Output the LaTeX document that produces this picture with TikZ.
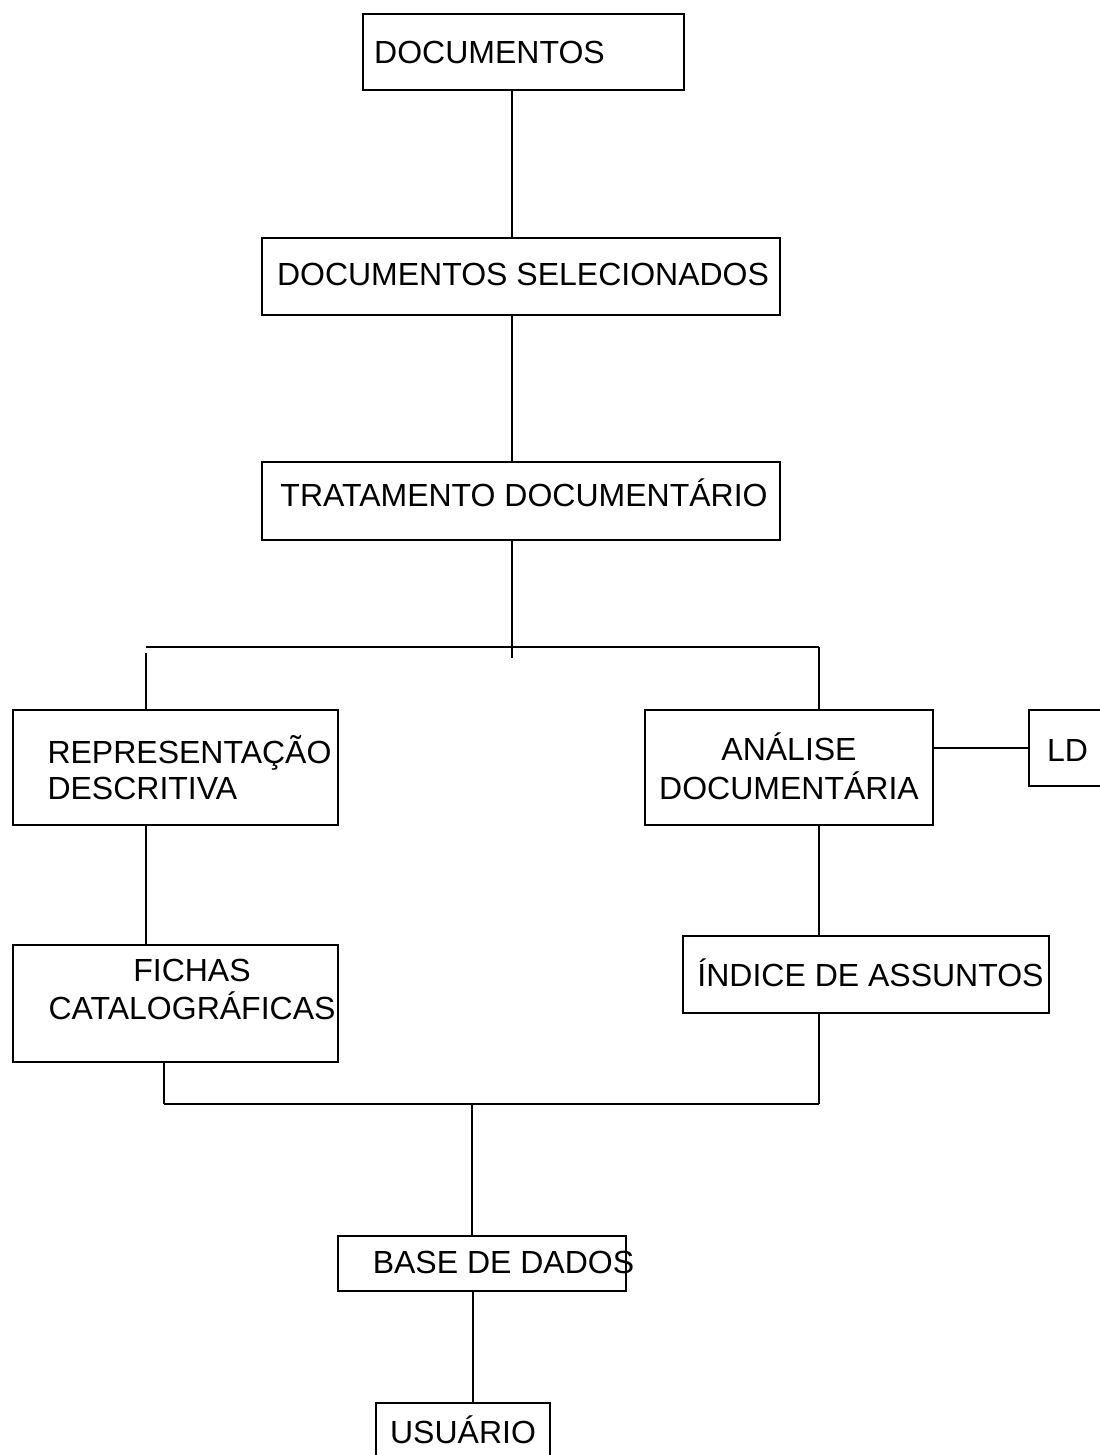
\documentclass[tikz,border=0pt]{standalone}
\usepackage{fontspec}
\setmainfont{Liberation Sans}
% box label: zero-width wrapper so the box keeps its own size;
% #1 = column alignment, #2 = horizontal shift, #3 = vertical raise, #4 = lines
\newcommand\boxlabel[4][c]{\makebox[0pt]{\kern#2pt\raisebox{#3pt}[\height][\depth]{\begin{tabular}{@{}#1@{}}#4\end{tabular}}}}
\begin{document}
\begin{tikzpicture}[x=0.5pt,y=-0.5pt,
  box/.style={draw=black, line width=1pt, rectangle, inner sep=0pt,
    font=\fontsize{16}{18}\selectfont},
  link/.style={draw=black, line width=1pt}]
\useasboundingbox (0,0) rectangle (1099,1455);

% boxes
\node[box, minimum width=160.5pt, minimum height=38pt]   (doc)  at (523.5,52)    {\boxlabel{-34}{-2}{DOCUMENTOS}};
\node[box, minimum width=259pt,   minimum height=38.5pt] (sel)  at (521,276.5)   {\boxlabel{2}{-1}{DOCUMENTOS SELECIONADOS}};
\node[box, minimum width=259pt,   minimum height=39pt]   (trat) at (521,501)     {\boxlabel{3}{1.5}{TRATAMENTO DOCUMENTÁRIO}};
\node[box, minimum width=162.5pt, minimum height=57.5pt] (rep)  at (175.5,767.5) {\boxlabel[l]{14}{-2.5}{REPRESENTAÇÃO\\DESCRITIVA}};
\node[box, minimum width=144pt,   minimum height=57.5pt] (ana)  at (789,767.5)   {\boxlabel{0}{-2}{ANÁLISE\\DOCUMENTÁRIA}};
\node[box, minimum width=45.5pt,  minimum height=38pt]   (ld)   at (1074.5,748)  {\boxlabel{-7}{-3}{LD}};
\node[box, minimum width=162.5pt, minimum height=58.5pt] (fic)  at (175.5,1003.5){\boxlabel{16.5}{5}{FICHAS\\CATALOGRÁFICAS}};
\node[box, minimum width=183pt,   minimum height=38.5pt] (ind)  at (866,974.5)   {\boxlabel{4.5}{-2}{ÍNDICE DE ASSUNTOS}};
\node[box, minimum width=144pt,   minimum height=27.5pt] (base) at (482,1263.5)  {\boxlabel{21.5}{-1.5}{BASE DE DADOS}};
\node[box, minimum width=87pt,    minimum height=32pt]   (usu)  at (463,1435)    {\boxlabel{0}{0}{USUÁRIO}};

% connector columns and junctions
\coordinate (spine) at (512,0);
\coordinate (colL)  at (146,0);
\coordinate (colR)  at (819,0);
\coordinate (colB)  at (164,0);
\coordinate (colM)  at (472,0);
\coordinate (colU)  at (473,0);
\coordinate (stub)   at (512,658);
\coordinate (splitL) at (146,647);
\coordinate (splitR) at (819,647);
\coordinate (dropL)  at (146,653);
\coordinate (joinL)  at (164,1104);
\coordinate (joinR)  at (819,1104);
\coordinate (joinM)  at (472,1104);

% connectors
\draw[link] (spine |- doc.south) -- (spine |- sel.north);
\draw[link] (spine |- sel.south) -- (spine |- trat.north);
\draw[link] (spine |- trat.south) -- (stub);
\draw[link] (splitL) -- (splitR);
\draw[link] (dropL) -- (colL |- rep.north);
\draw[link] (splitR) -- (colR |- ana.north);
\draw[link] (ld.west -| ana.east) -- (ld.west);
\draw[link] (colL |- rep.south) -- (colL |- fic.north);
\draw[link] (colR |- ana.south) -- (colR |- ind.north);
\draw[link] (colB |- fic.south) -- (joinL);
\draw[link] (colR |- ind.south) -- (joinR);
\draw[link] (joinL) -- (joinR);
\draw[link] (joinM) -- (colM |- base.north);
\draw[link] (colU |- base.south) -- (colU |- usu.north);
\end{tikzpicture}
\end{document}
